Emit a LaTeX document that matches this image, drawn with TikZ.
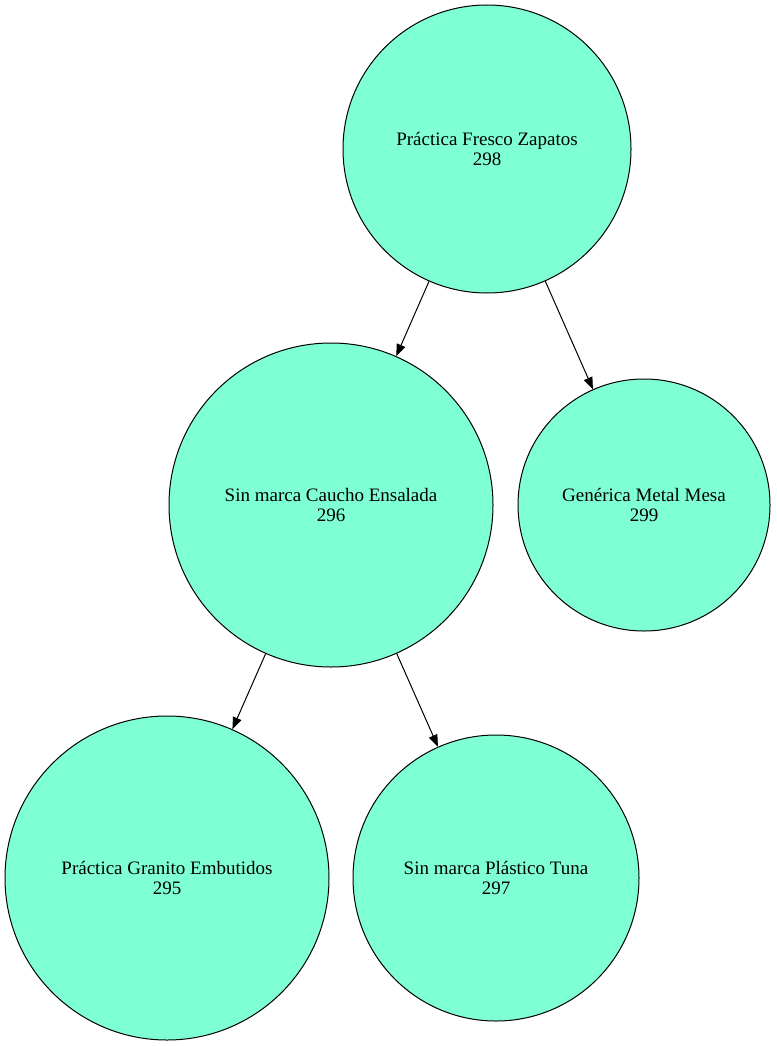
\documentclass[tikz,border=0pt]{standalone}
\usepackage{fontspec}
\setmainfont{Liberation Serif}
\usetikzlibrary{arrows.meta}
\definecolor{aquam}{RGB}{127,255,212}
\tikzset{
  prodnode/.style={circle, draw=black, fill=aquam, line width=1pt, inner sep=0pt,
    align=center, font=\fontsize{19}{20}\selectfont},
  link/.style={line width=1pt, -{Triangle[length=12pt,width=9pt]}}
}

\begin{document}
\begin{tikzpicture}[x=1pt, y=-1pt]
  \useasboundingbox (0,0) rectangle (776,1046);
  % nodes
  \node[prodnode, minimum size=288pt] (p298) at (487,149) {Práctica Fresco Zapatos\\298};
  \node[prodnode, minimum size=324pt] (p296) at (331,505) {Sin marca Caucho Ensalada\\296};
  \node[prodnode, minimum size=252pt] (p299) at (644,505) {Genérica Metal Mesa\\299};
  \node[prodnode, minimum size=324pt] (p295) at (167,878) {Práctica Granito Embutidos\\295};
  \node[prodnode, minimum size=286pt] (p297) at (496,878) {Sin marca Plástico Tuna\\297};
  % edges
  \draw[link] (p298) -- (p296);
  \draw[link] (p298) -- (p299);
  \draw[link] (p296) -- (p295);
  \draw[link] (p296) -- (p297);
\end{tikzpicture}
\end{document}
